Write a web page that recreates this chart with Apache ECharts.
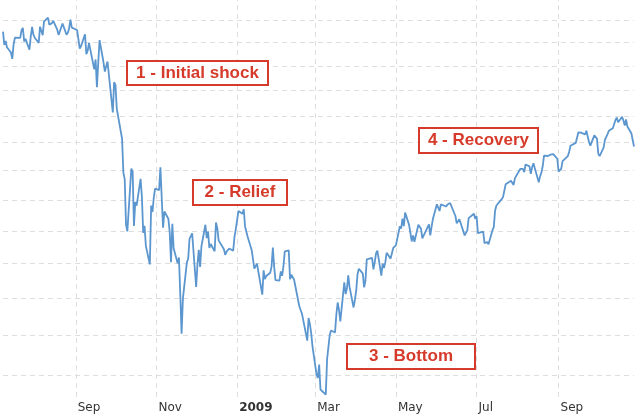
<!DOCTYPE html>
<html>
<head>
<meta charset="utf-8">
<script src="https://cdn.jsdelivr.net/npm/echarts@6/dist/echarts.min.js"></script>
<style>
  html, body { margin: 0; padding: 0; background: #fff; }
  #chart { width: 640px; height: 417px; }
</style>
</head>
<body>
<div id="chart"></div>
<script>
// S&P 500 daily closes, Jul 2008 - Oct 2009 (log scale)
const months = ["2008-07", "2008-08", "2008-09", "2008-10", "2008-11", "2008-12", "2009-01", "2009-02",
  "2009-03", "2009-04", "2009-05", "2009-06", "2009-07", "2009-08", "2009-09", "2009-10"];

const monthDays = [
  [8, 9, 10, 11, 14, 15, 16, 17, 18, 21, 22, 23, 24, 25, 28, 29, 30, 31],
  [1, 4, 5, 6, 7, 8, 11, 12, 13, 14, 15, 18, 19, 20, 21, 22, 25, 26, 27, 28, 29],
  [2, 3, 4, 5, 8, 9, 10, 11, 12, 15, 16, 17, 18, 19, 22, 23, 24, 25, 26, 29, 30],
  [1, 2, 3, 6, 7, 8, 9, 10, 13, 14, 15, 16, 17, 20, 21, 22, 23, 24, 27, 28, 29, 30, 31],
  [3, 4, 5, 6, 7, 10, 11, 12, 13, 14, 17, 18, 19, 20, 21, 24, 25, 26, 28],
  [1, 2, 3, 4, 5, 8, 9, 10, 11, 12, 15, 16, 17, 18, 19, 22, 23, 24, 26, 29, 30, 31],
  [2, 5, 6, 7, 8, 9, 12, 13, 14, 15, 16, 20, 21, 22, 23, 26, 27, 28, 29, 30],
  [2, 3, 4, 5, 6, 9, 10, 11, 12, 13, 17, 18, 19, 20, 23, 24, 25, 26, 27],
  [2, 3, 4, 5, 6, 9, 10, 11, 12, 13, 16, 17, 18, 19, 20, 23, 24, 25, 26, 27, 30, 31],
  [1, 2, 3, 6, 7, 8, 9, 13, 14, 15, 16, 17, 20, 21, 22, 23, 24, 27, 28, 29, 30],
  [1, 4, 5, 6, 7, 8, 11, 12, 13, 14, 15, 18, 19, 20, 21, 22, 26, 27, 28, 29],
  [1, 2, 3, 4, 5, 8, 9, 10, 11, 12, 15, 16, 17, 18, 19, 22, 23, 24, 25, 26, 29, 30],
  [1, 2, 6, 7, 8, 9, 10, 13, 14, 15, 16, 17, 20, 21, 22, 23, 24, 27, 28, 29, 30, 31],
  [3, 4, 5, 6, 7, 10, 11, 12, 13, 14, 17, 18, 19, 20, 21, 24, 25, 26, 27, 28, 31],
  [1, 2, 3, 4, 8, 9, 10, 11, 14, 15, 16, 17, 18, 21, 22, 23, 24, 25, 28, 29, 30],
  [1, 2, 5, 6, 7, 8, 9, 12, 13, 14, 15, 16, 19, 20, 21, 22, 23, 26, 27, 28]
];

const closes = [
  1273.7, 1244.69, 1253.39, 1239.49, 1228.3, 1214.91, 1245.36, 1260.32, 1260.68, 1260, 1277, 1282.19, 1252.54, 1257.76, 1234.37, 1263.2, 1284.26, 1267.38,
  1260.31, 1249.01, 1284.88, 1289.19, 1266.07, 1296.32, 1305.32, 1289.59, 1285.83, 1292.93, 1298.2, 1278.6, 1266.69, 1274.54, 1277.72, 1292.2, 1266.84, 1271.51, 1281.66, 1300.68, 1282.83,
  1277.58, 1274.98, 1236.83, 1242.31, 1267.79, 1224.51, 1232.04, 1249.05, 1251.7, 1192.7, 1213.6, 1156.39, 1206.51, 1255.08, 1207.09, 1188.22, 1185.87, 1209.18, 1213.27, 1106.42, 1166.36,
  1161.06, 1114.28, 1099.23, 1056.89, 996.23, 984.94, 909.92, 899.22, 1003.35, 998.01, 907.84, 946.43, 940.55, 985.4, 955.05, 896.78, 908.11, 876.77, 848.92, 940.51, 930.09, 954.09, 968.75,
  966.3, 1005.75, 952.77, 904.88, 930.99, 919.21, 898.95, 852.3, 911.29, 873.29, 850.75, 859.12, 806.58, 752.44, 800.03, 851.81, 857.39, 887.68, 896.24,
  816.21, 848.81, 870.74, 845.22, 876.07, 909.7, 888.67, 899.24, 873.59, 879.73, 868.57, 913.18, 904.42, 885.28, 887.88, 871.63, 863.16, 868.15, 872.8, 869.42, 890.64, 903.25,
  931.8, 927.45, 934.7, 906.65, 909.73, 890.35, 870.26, 871.79, 842.62, 843.74, 850.12, 805.22, 840.24, 827.5, 831.95, 836.57, 845.71, 874.09, 845.14, 825.88,
  825.44, 838.51, 832.23, 845.85, 868.6, 869.89, 827.16, 833.74, 835.19, 826.84, 789.17, 788.42, 778.94, 770.05, 743.33, 773.14, 764.9, 752.83, 735.09,
  700.82, 696.33, 712.87, 682.55, 683.38, 676.53, 719.6, 721.36, 750.74, 756.55, 753.89, 778.12, 794.35, 784.04, 768.54, 822.92, 806.12, 813.88, 832.86, 815.94, 787.53, 797.87,
  811.08, 834.38, 842.5, 835.48, 815.55, 825.16, 856.56, 858.73, 841.5, 852.06, 865.3, 869.6, 832.39, 850.08, 843.55, 851.92, 866.23, 857.51, 855.16, 873.64, 872.81,
  877.52, 907.24, 903.8, 919.53, 907.39, 929.23, 909.24, 908.35, 883.92, 893.07, 882.88, 909.71, 908.13, 903.47, 888.33, 887, 910.33, 893.06, 906.83, 919.14,
  942.87, 944.74, 931.76, 942.46, 940.09, 939.14, 942.43, 939.15, 944.89, 946.21, 923.72, 911.97, 910.71, 918.37, 921.23, 893.04, 895.1, 900.94, 920.26, 918.9, 927.23, 919.32,
  923.33, 896.42, 898.72, 881.03, 879.56, 882.68, 879.13, 901.05, 905.84, 932.68, 940.74, 940.38, 951.13, 954.58, 954.07, 976.29, 979.26, 982.18, 979.62, 975.15, 986.75, 987.48,
  1002.63, 1005.65, 1002.72, 997.08, 1010.48, 1007.1, 994.35, 1005.81, 1012.73, 1004.09, 979.73, 989.67, 996.46, 1007.37, 1026.13, 1025.57, 1028, 1028.12, 1030.98, 1028.93, 1020.62,
  998.04, 994.75, 1003.24, 1016.4, 1025.39, 1033.37, 1044.14, 1042.73, 1049.34, 1052.63, 1068.76, 1065.49, 1068.3, 1064.66, 1071.66, 1060.87, 1050.78, 1044.38, 1062.98, 1060.61, 1057.08,
  1029.85, 1025.21, 1040.46, 1054.72, 1057.58, 1065.48, 1071.49, 1076.19, 1073.19, 1092.02, 1096.56, 1087.68, 1097.91, 1091.06, 1081.4, 1092.91, 1079.6, 1066.95, 1063.41, 1042.63
];

const tickDates = ["2008-09-01", "2008-11-01", "2009-01-01", "2009-03-01", "2009-05-01", "2009-07-01", "2009-09-01"];
const tickLabels = ["Sep", "Nov", "2009", "Mar", "May", "Jul", "Sep"];
const gridLevels = [700, 750, 800, 850, 900, 950, 1000, 1050, 1100, 1150, 1200, 1250, 1300];

const notes = [
  { text: "1 - Initial shock", x: 127, y: 61, w: 141, h: 24 },
  { text: "2 - Relief", x: 193, y: 180, w: 94, h: 25 },
  { text: "3 - Bottom", x: 347, y: 344, w: 128, h: 25 },
  { text: "4 - Recovery", x: 419, y: 128, w: 119, h: 25 }
];

const red = "#d63a2a";

const dates = [];
months.forEach((m, i) => {
  monthDays[i].forEach(d => dates.push(m + "-" + String(d).padStart(2, "0")));
});
const seriesData = dates.map((d, i) => [d, closes[i]]);
const tickTimes = tickDates.map(d => +echarts.time.parse(d));

const gridStyle = { color: "#dedede", width: 1, type: [5, 4] };

const hLines = gridLevels.map(v => ({ yAxis: v, label: { show: false } }));
const vLines = tickTimes.map((t, i) => ({
  xAxis: t,
  label: {
    show: true,
    position: "start",
    distance: 5,
    align: "left",
    verticalAlign: "top",
    offset: [2, 0],
    fontFamily: "DejaVu Sans",
    fontSize: 12,
    color: "#333",
    fontWeight: tickLabels[i] === "2009" ? "bold" : "normal",
    formatter: tickLabels[i]
  }
}));

const chart = echarts.init(document.getElementById("chart"));
chart.setOption({
  animation: false,
  grid: { left: 3, right: 6, top: 0, bottom: 20 },
  xAxis: {
    type: "time",
    min: dates[0],
    max: dates[dates.length - 1],
    axisLine: { show: false },
    axisTick: { show: false },
    splitLine: { show: false },
    axisLabel: { show: false }
  },
  yAxis: {
    type: "log",
    min: 673.7,
    max: 1346.1,
    axisLine: { show: false },
    axisTick: { show: false },
    axisLabel: { show: false },
    splitLine: { show: false }
  },
  series: [{
    type: "line",
    data: seriesData,
    showSymbol: false,
    z: 5,
    lineStyle: { color: "#5b96cf", width: 1.8 },
    markLine: {
      silent: true,
      symbol: "none",
      lineStyle: gridStyle,
      z: 1,
      data: hLines.concat(vLines)
    }
  }],
  graphic: notes.map(n => ({
    type: "group",
    x: n.x,
    y: n.y,
    z: 100,
    children: [
      { type: "rect", z: 100, shape: { x: 0, y: 0, width: n.w, height: n.h },
        style: { fill: "#fff", stroke: red, lineWidth: 2 } },
      { type: "text", z: 101, x: n.w / 2, y: n.h / 2,
        style: { text: n.text, fill: red, font: 'bold 17px "Liberation Sans", Arial, sans-serif',
          align: "center", verticalAlign: "middle" } }
    ]
  }))
});
window.addEventListener("resize", chart.resize);
</script>
</body>
</html>
